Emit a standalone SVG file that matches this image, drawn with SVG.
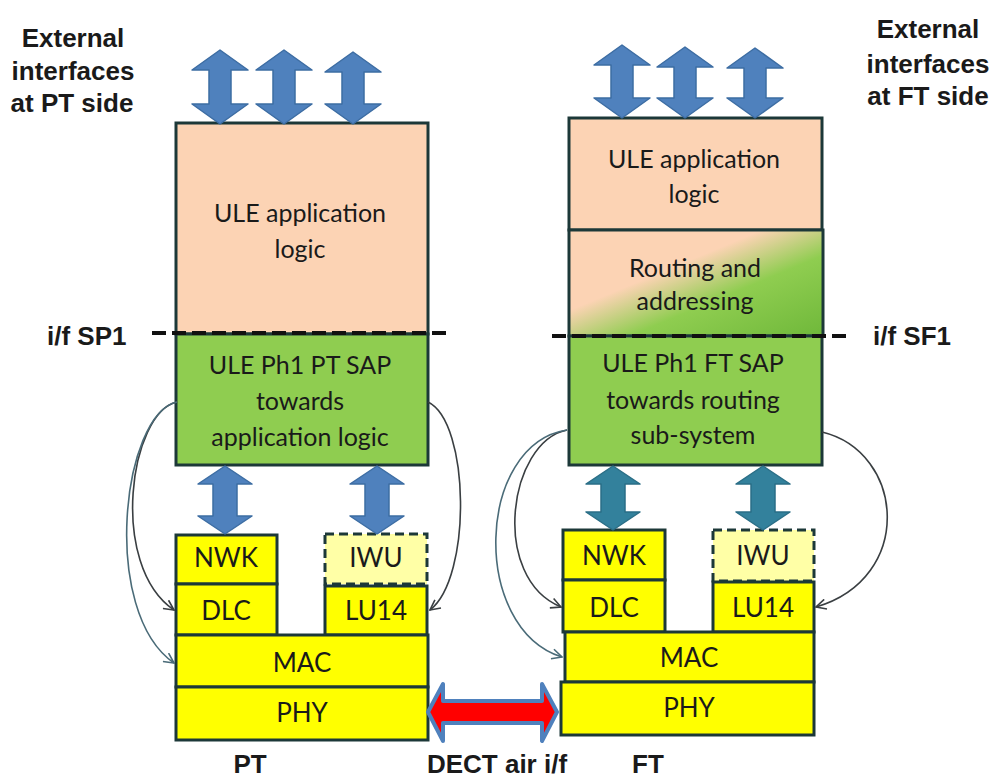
<svg xmlns="http://www.w3.org/2000/svg" width="991" height="781" viewBox="0 0 991 781">
<defs>
<style>
.lbl{font-family:"Liberation Sans",Arial,sans-serif;font-weight:bold;font-size:26px;fill:#1a1a1a}
.bt{font-family:Lato,"Open Sans",sans-serif;font-size:25px;fill:#1a1a1a;text-anchor:middle}
.st{font-family:Lato,"Open Sans",sans-serif;font-size:26px;fill:#1a1a1a;text-anchor:middle}
.box{stroke:#1c3838;stroke-width:3}
.peach{fill:#fcd3b4}
.green{fill:#8fcd50}
.yel{fill:#ffff00}
.iwu{fill:#ffffa6;stroke:#1c3838;stroke-width:3;stroke-dasharray:9 5}
.blue{fill:#4f81bd;stroke:#3d6da3;stroke-width:1.5;stroke-linejoin:round}
.teal{fill:#33819c;stroke:#2a6e86;stroke-width:1.5;stroke-linejoin:round}
.if{stroke:#111;stroke-width:4;stroke-dasharray:14 6;fill:none}
.crv{fill:none;stroke:#3a3f42;stroke-width:1.6}
.crv2{fill:none;stroke:#4a6b78;stroke-width:1.6}
</style>
<linearGradient id="rg" x1="0" y1="0" x2="1" y2="1">
<stop offset="0.38" stop-color="#fcd3b4"/>
<stop offset="0.62" stop-color="#8fcd50"/>
<stop offset="1" stop-color="#6fb83a"/>
</linearGradient>
<marker id="ah" viewBox="0 0 12 12" refX="11" refY="6" markerWidth="12" markerHeight="12" markerUnits="userSpaceOnUse" orient="auto">
<path d="M1,1 L11,6 L1,11" fill="none" stroke="#3a3f42" stroke-width="1.6"/>
</marker>
<marker id="ah2" viewBox="0 0 12 12" refX="11" refY="6" markerWidth="12" markerHeight="12" markerUnits="userSpaceOnUse" orient="auto">
<path d="M1,1 L11,6 L1,11" fill="none" stroke="#4a6b78" stroke-width="1.6"/>
</marker>
</defs>
<rect width="991" height="781" fill="#ffffff"/>

<!-- labels -->
<g id="labels">
<text class="lbl" text-anchor="middle" x="73" y="47">External</text>
<text class="lbl" text-anchor="middle" x="73" y="80">interfaces</text>
<text class="lbl" text-anchor="middle" x="72" y="112">at PT side</text>
<text class="lbl" text-anchor="middle" x="928" y="38">External</text>
<text class="lbl" text-anchor="middle" x="928" y="73">interfaces</text>
<text class="lbl" text-anchor="middle" x="928" y="105">at FT side</text>
<text class="lbl" x="47" y="345">i/f SP1</text>
<text class="lbl" x="873" y="345">i/f SF1</text>
<text class="lbl" text-anchor="middle" x="250" y="773">PT</text>
<text class="lbl" text-anchor="middle" x="497" y="773">DECT air i/f</text>
<text class="lbl" text-anchor="middle" x="648" y="773">FT</text>
</g>

<!-- PT stack -->
<g id="pt-app"><rect class="box peach" x="176" y="123" width="252" height="211"/>
<text class="bt" x="300" y="222">ULE application</text><text class="bt" x="300" y="258">logic</text></g>
<g id="pt-sap"><rect class="box green" x="176" y="334" width="252" height="131"/>
<text class="bt" x="300" y="374">ULE Ph1 PT SAP</text><text class="bt" x="300" y="410">towards</text><text class="bt" x="300" y="446">application logic</text></g>
<g id="pt-nwk"><rect class="box yel" x="176" y="535" width="101" height="49"/><text class="st" x="226" y="567">NWK</text></g>
<g id="pt-iwu"><rect class="iwu" x="325" y="534" width="102" height="50"/><text class="st" x="376" y="567">IWU</text></g>
<g id="pt-dlc"><rect class="box yel" x="176" y="584" width="101" height="51"/><text class="st" x="226" y="620">DLC</text></g>
<g id="pt-lu14"><rect class="box yel" x="325" y="586" width="102" height="49"/><text class="st" x="376" y="620">LU14</text></g>
<g id="pt-mac"><rect class="box yel" x="176" y="635" width="252" height="52"/><text class="st" x="302" y="672">MAC</text></g>
<g id="pt-phy"><rect class="box yel" x="176" y="687" width="252" height="53"/><text class="st" x="302" y="722">PHY</text></g>

<!-- FT stack -->
<g id="ft-app"><rect class="box peach" x="569" y="118" width="253" height="112"/>
<text class="bt" x="694" y="168">ULE application</text><text class="bt" x="694" y="203">logic</text></g>
<g id="ft-routing"><rect class="box" fill="url(#rg)" x="569" y="230" width="254" height="106"/>
<text class="bt" x="695" y="277">Routing and</text><text class="bt" x="695" y="310">addressing</text></g>
<g id="ft-sap"><rect class="box green" x="569" y="336" width="253" height="129"/>
<text class="bt" x="693" y="372">ULE Ph1 FT SAP</text><text class="bt" x="693" y="409">towards routing</text><text class="bt" x="693" y="444">sub-system</text></g>
<g id="ft-nwk"><rect class="box yel" x="563" y="530" width="102" height="50"/><text class="st" x="614" y="565">NWK</text></g>
<g id="ft-iwu"><rect class="iwu" x="713" y="530" width="101" height="51"/><text class="st" x="763" y="565">IWU</text></g>
<g id="ft-dlc"><rect class="box yel" x="563" y="580" width="102" height="52"/><text class="st" x="614" y="617">DLC</text></g>
<g id="ft-lu14"><rect class="box yel" x="713" y="582" width="101" height="50"/><text class="st" x="763" y="617">LU14</text></g>
<g id="ft-mac"><rect class="box yel" x="565" y="632" width="249" height="50"/><text class="st" x="689" y="667">MAC</text></g>
<g id="ft-phy"><rect class="box yel" x="561" y="682" width="253" height="53"/><text class="st" x="689" y="717">PHY</text></g>

<!-- connectors -->
<g id="connectors">
<polygon class="blue" points="220,50 248,70 231,70 231,104 248,104 220,124 192,104 209,104 209,70 192,70"/>
<polygon class="blue" points="284,50 312,70 295,70 295,104 312,104 284,124 256,104 273,104 273,70 256,70"/>
<polygon class="blue" points="353,52 381,72 364,72 364,104 381,104 353,124 325,104 342,104 342,72 325,72"/>
<polygon class="blue" points="622,45 650,65 633,65 633,98 650,98 622,118 594,98 611,98 611,65 594,65"/>
<polygon class="blue" points="685,47 713,67 696,67 696,98 713,98 685,118 657,98 674,98 674,67 657,67"/>
<polygon class="blue" points="755,48 783,68 766,68 766,98 783,98 755,118 727,98 744,98 744,68 727,68"/>
<polygon class="blue" points="225,466 252,484 237,484 237,516 252,516 225,534 198,516 213,516 213,484 198,484"/>
<polygon class="blue" points="377,466 404,484 389,484 389,516 404,516 377,534 350,516 365,516 365,484 350,484"/>
<polygon class="teal" points="613,466 640,484 625,484 625,512 640,512 613,530 586,512 601,512 601,484 586,484"/>
<polygon class="teal" points="763,466 790,484 775,484 775,512 790,512 763,530 736,512 751,512 751,484 736,484"/>
<polygon points="428,712 443,684 443,701 542,701 542,684 557,712 542,741 542,723 443,723 443,741" fill="#ff0000" stroke="#4f81bd" stroke-width="4" stroke-linejoin="round"/>
<line class="if" x1="152" y1="333" x2="452" y2="333"/>
<line class="if" x1="552" y1="336" x2="850" y2="336"/>
<path class="crv" marker-end="url(#ah)" d="M177,402 C130,412 108,565 174,610"/>
<path class="crv2" marker-end="url(#ah2)" d="M177,402 C122,414 100,612 174,663"/>
<path class="crv" marker-end="url(#ah)" d="M428,402 C470,422 472,578 430,610"/>
<path class="crv" marker-end="url(#ah)" d="M567,430 C508,442 490,578 561,607"/>
<path class="crv2" marker-end="url(#ah2)" d="M567,430 C476,444 470,628 562,657"/>
<path class="crv" marker-end="url(#ah)" d="M822,432 C905,452 915,578 816,607"/>
</g>
</svg>
